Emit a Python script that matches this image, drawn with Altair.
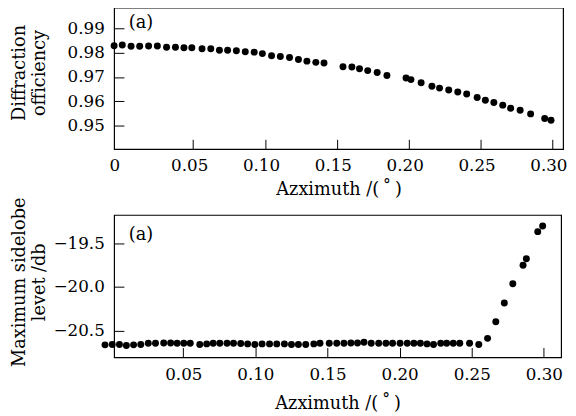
import altair as alt
import pandas as pd

# ---- data ----
top_x = [-0.005, 0.0007, 0.0068, 0.0128, 0.0190, 0.0251, 0.0315, 0.0377, 0.0436, 0.0491,
         0.0562, 0.0623, 0.0683, 0.0740, 0.0801, 0.0863, 0.0925, 0.0982, 0.1046, 0.1107,
         0.1171, 0.1233, 0.1292, 0.1354, 0.1411, 0.1543, 0.1605, 0.1658, 0.1715, 0.1781,
         0.1849, 0.1982, 0.2016, 0.2087, 0.2162, 0.2215, 0.2279, 0.2342, 0.2404, 0.2477,
         0.2534, 0.2593, 0.2655, 0.2710, 0.2776, 0.2849, 0.2947, 0.2991]
top_y = [0.9828, 0.9831, 0.9826, 0.9826, 0.9827, 0.9827, 0.9822, 0.9822, 0.9820, 0.9820,
         0.9816, 0.9816, 0.9810, 0.9810, 0.9808, 0.9804, 0.9802, 0.9796, 0.9787, 0.9784,
         0.9780, 0.9772, 0.9765, 0.9760, 0.9757, 0.9742, 0.9741, 0.9734, 0.9726, 0.9718,
         0.9706, 0.9696, 0.9689, 0.9676, 0.9662, 0.9654, 0.9646, 0.9638, 0.9630, 0.9615,
         0.9604, 0.9595, 0.9584, 0.9571, 0.9563, 0.9548, 0.9529, 0.9522]

bot_x = [-0.0043, 0.0007, 0.0057, 0.0105, 0.0155, 0.0205, 0.0257, 0.0307, 0.0364, 0.0412,
         0.0457, 0.0503, 0.0548, 0.0614, 0.0662, 0.0707, 0.0753, 0.0803, 0.0848, 0.0898,
         0.0946, 0.0996, 0.1046, 0.1098, 0.1148, 0.1201, 0.1250, 0.1298, 0.1349, 0.1405,
         0.1448, 0.1512, 0.1564, 0.1614, 0.1662, 0.1708, 0.1753, 0.1803, 0.1855, 0.1905,
         0.1951, 0.2003, 0.2053, 0.2099, 0.2144, 0.2190, 0.2235, 0.2285, 0.2326, 0.2372,
         0.2417, 0.2485, 0.2549, 0.2610, 0.2667, 0.2726, 0.2785, 0.2856, 0.2879, 0.2958,
         0.2992]
bot_y = [-20.659, -20.655, -20.655, -20.667, -20.659, -20.655, -20.641, -20.641, -20.637, -20.637,
         -20.641, -20.641, -20.641, -20.655, -20.648, -20.641, -20.641, -20.641, -20.641, -20.644,
         -20.648, -20.655, -20.648, -20.648, -20.648, -20.648, -20.655, -20.655, -20.655, -20.648,
         -20.641, -20.641, -20.641, -20.641, -20.637, -20.637, -20.630, -20.641, -20.641, -20.641,
         -20.641, -20.641, -20.641, -20.641, -20.641, -20.648, -20.655, -20.641, -20.641, -20.641,
         -20.641, -20.641, -20.655, -20.585, -20.395, -20.182, -19.962, -19.753, -19.679, -19.369,
         -19.305]

top_xticks = [0, 0.05, 0.10, 0.15, 0.20, 0.25, 0.30]
top_xticks_marks = [0.05, 0.10, 0.15, 0.20, 0.25, 0.30]
top_yticks = [0.95, 0.96, 0.97, 0.98, 0.99]
bot_xticks = [0.05, 0.10, 0.15, 0.20, 0.25, 0.30]
bot_yticks = [-20.5, -20.0, -19.5]

x_title = "Azximuth /(\u2009\u02da\u2009)"
top_ytitle = ["Diffraction", "officiency"]
bot_ytitle = ["Maximum sidelobe", "levet /db"]
panel_label = "(a)"

FONT = "DejaVu Serif"
TICK = 10

top_df = pd.DataFrame({"x": top_x, "y": top_y})
bot_df = pd.DataFrame({"x": bot_x, "y": bot_y})


def panel(df, xdom, ydom, xvals, xtickvals, yvals, yfmt, ytitle, w, h,
          ytitle_pad, ytitle_y, xtitle_pad, lab_y, xlabel_offset, xlabelexpr=None):
    xs = alt.Scale(domain=xdom, nice=False, zero=False)
    ys = alt.Scale(domain=ydom, nice=False, zero=False)
    xaxis_kw = dict(values=xvals, title=x_title, ticks=False, domain=False, grid=False,
                    labelPadding=9, titlePadding=xtitle_pad, orient="bottom",
                    labelOffset=xlabel_offset)
    if xlabelexpr:
        xaxis_kw["labelExpr"] = xlabelexpr
    else:
        xaxis_kw["format"] = ".2f"
    pts = alt.Chart(df).mark_circle(size=50, color="black", opacity=1).encode(
        x=alt.X("x:Q", scale=xs, axis=alt.Axis(**xaxis_kw)),
        y=alt.Y("y:Q", scale=ys, axis=alt.Axis(values=yvals, format=yfmt, title=ytitle,
                                               ticks=False, domain=False, grid=False,
                                               labelPadding=10, titlePadding=ytitle_pad,
                                               titleY=ytitle_y, orient="left")),
    )
    tk = alt.Chart(df).mark_point(opacity=0).encode(
        x=alt.X("x:Q", scale=xs, axis=alt.Axis(values=xtickvals, labels=False, title=None,
                                               domain=False, grid=False, ticks=True,
                                               tickSize=TICK, tickColor="black",
                                               offset=-TICK, orient="bottom")),
        y=alt.Y("y:Q", scale=ys, axis=alt.Axis(values=yvals, labels=False, title=None,
                                               domain=False, grid=False, ticks=True,
                                               tickSize=TICK, tickColor="black",
                                               offset=-TICK, orient="left")),
    )
    lab = alt.Chart(pd.DataFrame({"t": [panel_label]})).mark_text(
        font=FONT, fontSize=18, align="left", baseline="middle", color="black"
    ).encode(text="t:N", x=alt.value(15), y=alt.value(lab_y))
    return alt.layer(pts, tk, lab).resolve_axis(x="independent", y="independent").properties(
        width=w, height=h)


top = panel(top_df, [-0.005, 0.3075], [0.9403, 0.9985], top_xticks, top_xticks_marks,
            top_yticks, ".2f", top_ytitle, 457, 144, ytitle_pad=19, ytitle_y=66,
            xtitle_pad=7, lab_y=16,
            xlabel_offset={"condition": {"test": "datum.value == 0", "value": -7}, "value": -4},
            xlabelexpr="datum.value == 0 ? '0' : format(datum.value, '.2f')")
bot = panel(bot_df, [0.002, 0.312], [-20.802, -19.179], bot_xticks, bot_xticks,
            bot_yticks, ".1f", bot_ytitle, 455, 145, ytitle_pad=5, ytitle_y=68,
            xtitle_pad=13, lab_y=20, xlabel_offset=0)

chart = alt.vconcat(top, bot, spacing=-3).properties(
    padding={"top": -5, "left": 2, "right": 0, "bottom": 0},
    background="white",
).configure_view(stroke="black", strokeWidth=1.2).configure_axis(
    labelFont=FONT, titleFont=FONT, labelFontSize=17, titleFontSize=18,
    titleFontWeight="normal", labelColor="black", titleColor="black"
)

chart.save("out.html", embed_options={"renderer": "svg", "actions": False})
